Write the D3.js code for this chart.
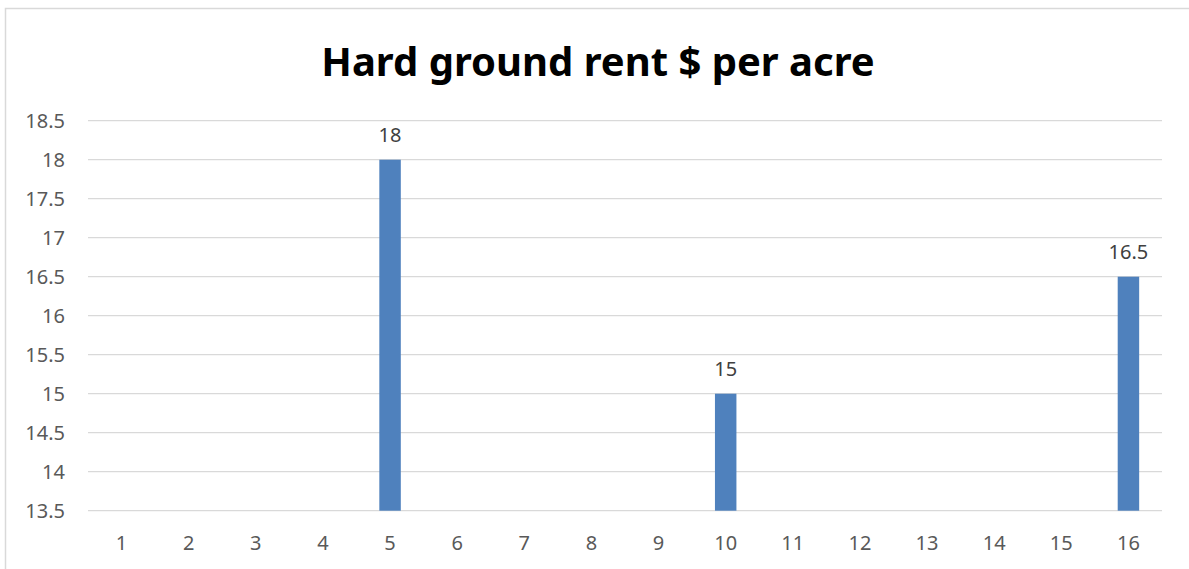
<!DOCTYPE html>
<html>
<head>
<meta charset="utf-8">
<script src="https://cdn.jsdelivr.net/npm/d3@7"></script>
<style>
  body { margin: 0; background: #fff; }
  svg { display: block; font-family: "Noto Sans", sans-serif; }
</style>
</head>
<body>
<svg width="1189" height="569"></svg>
<script>
// chart data
var categories = ["1","2","3","4","5","6","7","8","9","10","11","12","13","14","15","16"];
var values = [null,null,null,null,18,null,null,null,null,15,null,null,null,null,null,16.5];
var yTicks = [13.5,14,14.5,15,15.5,16,16.5,17,17.5,18,18.5];
var title = "Hard ground rent $ per acre";

var svg = d3.select("svg");

// outer chart border (only top & left visible)
svg.append("rect")
  .attr("x", 5.5).attr("y", 8.5)
  .attr("width", 1200).attr("height", 600)
  .attr("fill", "none")
  .attr("stroke", "#d9d9d9")
  .attr("stroke-width", 1.5);

var plotLeft = 88, plotRight = 1162, plotTop = 120.7, plotBottom = 510.7;

var x = d3.scaleBand()
  .domain(categories)
  .range([plotLeft, plotRight])
  .paddingInner(0.68)
  .paddingOuter(0.34);

var y = d3.scaleLinear()
  .domain([13.5, 18.5])
  .range([plotBottom, plotTop]);

// gridlines
svg.append("g")
  .selectAll("line")
  .data(yTicks)
  .enter()
  .append("line")
  .attr("x1", plotLeft).attr("x2", plotRight)
  .attr("y1", function(d) { return y(d); })
  .attr("y2", function(d) { return y(d); })
  .attr("stroke", "#d9d9d9")
  .attr("stroke-width", 1.3);

// y labels
svg.append("g")
  .selectAll("text")
  .data(yTicks)
  .enter()
  .append("text")
  .attr("x", 65)
  .attr("y", function(d) { return y(d); })
  .attr("dy", "0.35em")
  .attr("text-anchor", "end")
  .attr("font-size", 20)
  .attr("fill", "#595959")
  .text(function(d) { return d; });

// x labels
svg.append("g")
  .selectAll("text")
  .data(categories)
  .enter()
  .append("text")
  .attr("x", function(d) { return x(d) + x.bandwidth() / 2; })
  .attr("y", 543)
  .attr("dy", "0.35em")
  .attr("text-anchor", "middle")
  .attr("font-size", 20)
  .attr("fill", "#595959")
  .text(function(d) { return d; });

var pts = categories.map(function(c, i) { return {cat: c, v: values[i]}; })
  .filter(function(d) { return d.v != null; });

// bars
svg.append("g")
  .selectAll("rect")
  .data(pts)
  .enter()
  .append("rect")
  .attr("x", function(d) { return x(d.cat); })
  .attr("y", function(d) { return y(d.v); })
  .attr("width", x.bandwidth())
  .attr("height", function(d) { return plotBottom - y(d.v); })
  .attr("fill", "#4f81bd");

// data labels
svg.append("g")
  .selectAll("text")
  .data(pts)
  .enter()
  .append("text")
  .attr("x", function(d) { return x(d.cat) + x.bandwidth() / 2; })
  .attr("y", function(d) { return y(d.v) - 25; })
  .attr("dy", "0.35em")
  .attr("text-anchor", "middle")
  .attr("font-size", 20)
  .attr("fill", "#404040")
  .text(function(d) { return d.v; });

// title
svg.append("text")
  .attr("x", 598)
  .attr("y", 76)
  .attr("text-anchor", "middle")
  .attr("font-size", 40)
  .attr("font-weight", "bold")
  .attr("fill", "#000")
  .text(title);
</script>
</body>
</html>
